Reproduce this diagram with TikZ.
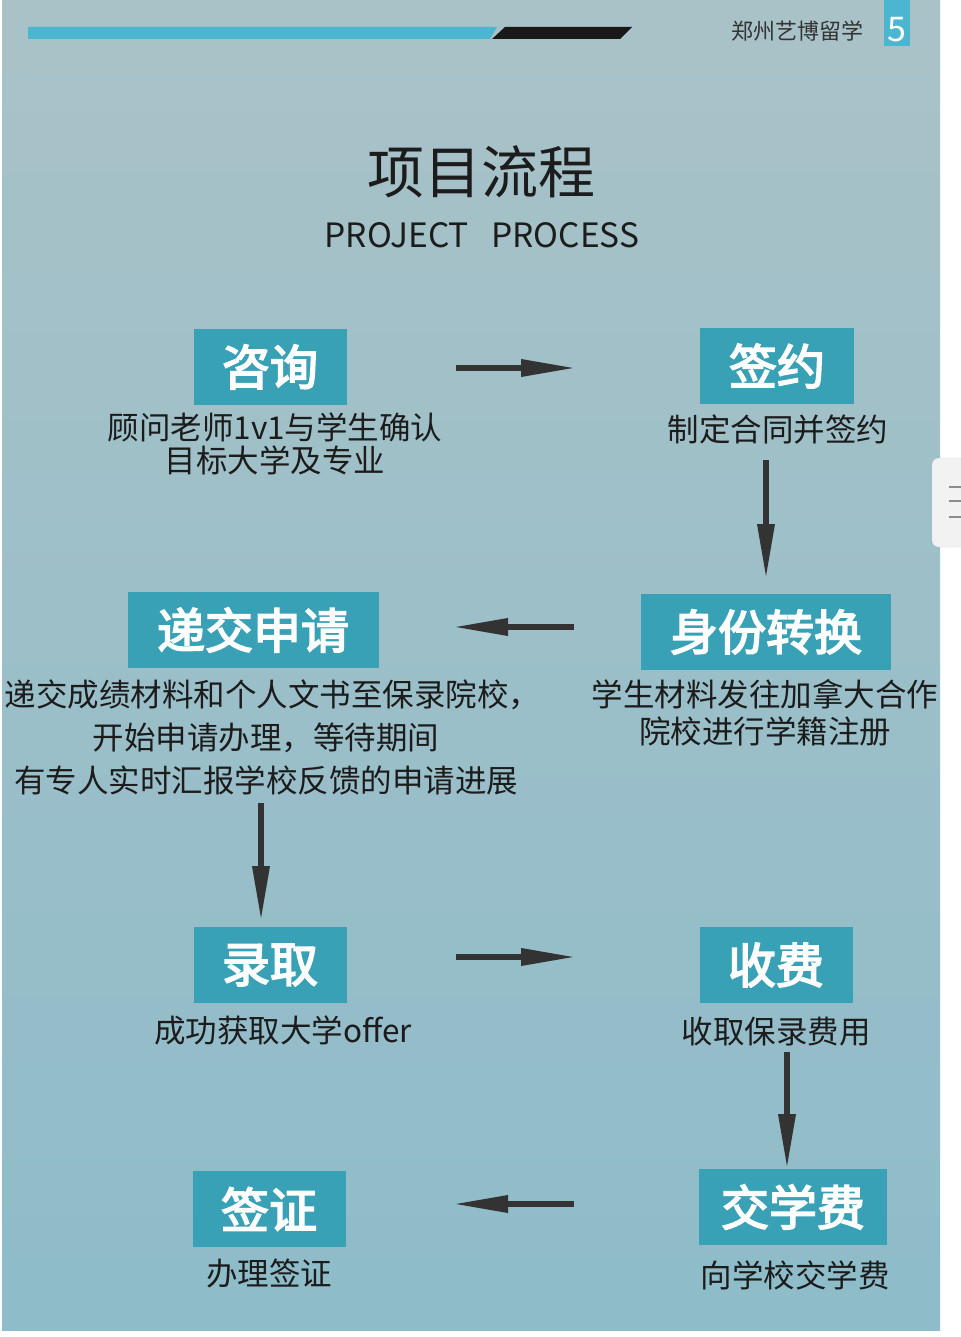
\documentclass[tikz,border=0pt]{standalone}
\usepackage{fontspec}
\newfontfamily\cjk{Noto Sans CJK SC}
\newfontfamily\cjkfb{Noto Sans CJK SC}[FakeBold=3.5]
\usetikzlibrary{arrows.meta}
\definecolor{bgtop}{HTML}{A9C2C8}
\definecolor{bgmid}{HTML}{A2C8D0}
\definecolor{bgbot}{HTML}{8EBCC9}
\definecolor{boxc}{HTML}{38A1B5}
\definecolor{barc}{HTML}{4CB5CF}
\definecolor{arrc}{HTML}{333333}
\definecolor{txtc}{HTML}{1C1C1C}
\tikzset{
  box/.style={fill=boxc, text=white, font=\cjkfb\fontsize{48}{52}\selectfont, minimum height=76pt, inner sep=0pt},
  desc/.style={text=txtc, font=\cjk\fontsize{31.5}{33}\selectfont, align=center, inner sep=0pt},
  arr/.style={draw=arrc, line width=6.5pt, -{Triangle[length=56pt,width=16pt]}},
}
\begin{document}
\begin{tikzpicture}[x=1pt,y=-1pt]
\useasboundingbox (0,0) rectangle (960,1337);
\fill[white] (0,0) rectangle (960,1337);
\shade[top color=bgtop, middle color=bgmid, bottom color=bgbot] (2,0) rectangle (940,1330);
% right tab
\draw[fill=white!95!black, draw=black!15, rounded corners=7pt] (932,458) rectangle (980,547);
\foreach \yy in {487,501,517}{\draw[black!45, line width=2pt] (949,\yy) -- (962,\yy);}
% top bar
\fill[barc] (28,27) -- (497,27) -- (490,39) -- (28,39) -- cycle;
\fill[black!90] (505,27) -- (632,27) -- (620,39) -- (492,39) -- cycle;
\node[text=black!80, font=\cjk\fontsize{22}{24}\selectfont, inner sep=0pt] (hdr) at (797,31) {郑州艺博留学};
\fill[barc] (884,0) rectangle (910,46);
\node[text=white, font=\cjk\fontsize{34}{36}\selectfont, inner sep=0pt] (pg) at (897,30) {5};
% title
\node[text=txtc, font=\cjk\fontsize{57}{60}\selectfont, inner sep=0pt] (title) at (481,172) {项目流程};
\node[text=txtc, font=\cjk\fontsize{33.5}{36}\selectfont, inner sep=0pt] (sub) at (482,235) {PROJECT\ \ \ PROCESS};
% boxes
\node[box, minimum width=153pt] (zx) at (270,367) {咨询};
\node[box, minimum width=154pt] (qy) at (777,366) {签约};
\node[box, minimum width=251pt] (dj) at (253,630) {递交申请};
\node[box, minimum width=250pt] (sf) at (766,632) {身份转换};
\node[box, minimum width=153pt] (lq) at (270,965) {录取};
\node[box, minimum width=153pt] (sfy) at (776,965) {收费};
\node[box, minimum width=153pt] (qz) at (269,1209) {签证};
\node[box, minimum width=188pt] (jxf) at (793,1207) {交学费};
% descriptions
\node[desc] (zxd) at (275,444) {顾问老师1v1与学生确认\\目标大学及专业};
\node[desc] (qyd) at (778,430) {制定合同并签约};
\node[desc, font=\cjk\fontsize{31.5}{43}\selectfont] (djd) at (266,737) {\hspace*{13pt}递交成绩材料和个人文书至保录院校，\\开始申请办理，等待期间\\有专人实时汇报学校反馈的申请进展};
\node[desc, font=\cjk\fontsize{31.5}{37}\selectfont] (sfd) at (765,713) {学生材料发往加拿大合作\\院校进行学籍注册};
\node[desc] (lqd) at (283,1030) {成功获取大学offer};
\node[desc] (sfyd) at (776,1032) {收取保录费用};
\node[desc] (qzd) at (269,1273) {办理签证};
\node[desc] (jxfd) at (795,1275) {向学校交学费};
% arrow ends
\coordinate (a1s) at (456,368); \coordinate (a1e) at (577,368);
\coordinate (a2s) at (766,460); \coordinate (a2e) at (766,580);
\coordinate (a3s) at (574,627); \coordinate (a3e) at (452,627);
\coordinate (a4s) at (261,803); \coordinate (a4e) at (261,922);
\coordinate (a5s) at (456,957); \coordinate (a5e) at (577,957);
\coordinate (a6s) at (787,1052); \coordinate (a6e) at (787,1170);
\coordinate (a7s) at (574,1204); \coordinate (a7e) at (452,1204);
\draw[arr] (a1s) -- (a1e);
\draw[arr] (a2s) -- (a2e);
\draw[arr] (a3s) -- (a3e);
\draw[arr] (a4s) -- (a4e);
\draw[arr] (a5s) -- (a5e);
\draw[arr] (a6s) -- (a6e);
\draw[arr] (a7s) -- (a7e);
\end{tikzpicture}
\end{document}
